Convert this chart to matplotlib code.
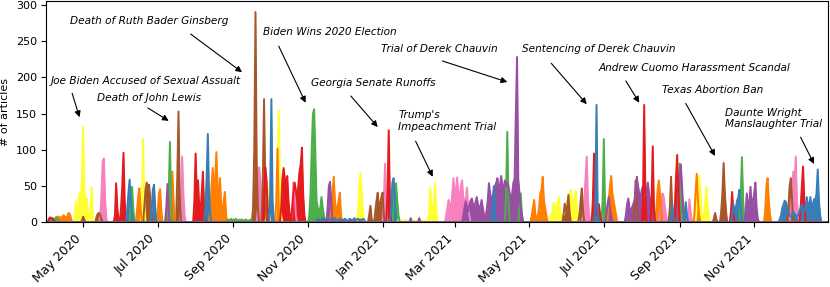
import numpy as np
import pandas as pd
import matplotlib
matplotlib.use("Agg")
import matplotlib.pyplot as plt
import matplotlib.dates as mdates

# ── daily article counts, one list of (start day, daily values) per topic colour ──
yellow = [
    ("2020-04-24", [5, 29, 15, 20, 40, 30, 60, 132, 45, 25, 33, 10, 5, 20, 49, 8]),
    ("2020-06-18", [20, 115, 30]),
    ("2020-09-28", [10, 50, 15]),
    ("2020-10-06", [20, 60, 155, 50, 10]),
    ("2020-12-12", [15, 50, 68, 40, 10]),
    ("2021-01-13", [2, 3, 2, 3, 2, 2, 3, 2, 3, 2, 2, 3, 2, 2, 3, 2, 2, 3, 2, 2, 3, 2, 2, 3]),
    ("2021-02-08", [15, 48, 20, 10, 30, 54, 15]),
    ("2021-05-17", [3, 5, 13, 8, 28, 20, 15, 25, 35, 20, 10, 8, 10, 15, 20, 30, 25,
                    40, 45, 30, 25, 35, 43, 20, 5]),
    ("2021-09-15", [20, 50, 65, 40, 15, 5, 10, 30, 49, 20, 5]),
    ("2021-12-26", [1, 1, 1, 1, 1, 1]),
]
pink = [
    ("2020-05-15", [10, 40, 85, 88, 30, 5]),
    ("2020-07-20", [15, 91, 40, 10]),
    ("2020-09-21", [20, 76, 60, 20]),
    ("2020-10-19", [15, 55, 50, 10]),
    ("2021-01-02", [30, 81, 20]),
    ("2021-02-22", [10, 20, 31, 25, 15, 40, 61, 35, 45, 62, 40, 30, 50, 58, 35, 30,
                    30, 48, 20, 10]),
    ("2021-06-14", [10, 30, 60, 91, 30, 10]),
    ("2021-08-16", [15, 30, 40, 35, 20, 10]),
    ("2021-09-08", [10, 32, 15]),
    ("2021-12-01", [20, 40, 70, 50, 91, 30, 10]),
]
brown = [
    ("2020-04-30", [3, 8, 4]),
    ("2020-05-12", [8, 12, 13, 10, 5]),
    ("2020-06-20", [20, 45, 55, 48, 52, 30, 10]),
    ("2020-07-17", [60, 153, 40]),
    ("2020-09-17", [20, 100, 290, 80, 20]),
    ("2020-09-25", [60, 170, 50]),
    ("2020-12-21", [10, 23, 5]),
    ("2020-12-26", [15, 30, 41, 20, 25, 35, 41, 10]),
    ("2021-05-29", [10, 26, 15, 20, 38, 15]),
    ("2021-06-11", [10, 30, 47, 15]),
    ("2021-07-26", [20, 58, 20]),
    ("2021-08-24", [20, 63, 15]),
    ("2021-09-29", [5, 13, 5]),
    ("2021-10-05", [15, 40, 82, 40, 15]),
    ("2021-11-29", [20, 50, 61, 30]),
]
orange = [
    ("2020-04-08", [5, 8, 7, 8, 6, 7, 8, 10, 8, 7, 8, 13, 12, 6]),
    ("2020-06-14", [15, 35, 47, 20]),
    ("2020-07-01", [15, 40, 46, 15]),
    ("2020-07-12", [40, 70, 30]),
    ("2020-08-13", [20, 50, 75, 40, 60, 97, 50, 30, 61, 20, 15, 30, 42, 10]),
    ("2020-10-06", [30, 102, 20]),
    ("2020-11-20", [20, 40, 63, 30, 15, 20, 30, 41, 10]),
    ("2021-05-03", [10, 20, 31, 10, 5, 10, 20, 40, 45, 63, 30, 20, 10]),
    ("2021-07-05", [30, 50, 64, 40, 30, 20, 10]),
    ("2021-08-13", [20, 45, 58, 40, 15]),
    ("2021-09-13", [10, 40, 67, 30, 10]),
    ("2021-11-10", [15, 50, 61, 30, 10]),
]
green = [
    ("2020-04-05", [4, 6, 5, 3, 6, 5, 4]),
    ("2020-06-09", [30, 49, 20]),
    ("2020-07-10", [40, 111, 30]),
    ("2020-08-27", [3, 4, 2, 5, 3, 4, 3, 5, 3, 2, 4, 3, 4, 2, 3, 4, 3, 2, 3, 4]),
    ("2020-11-02", [10, 40, 100, 150, 156, 90, 30, 20, 15, 20, 35, 20, 10]),
    ("2021-01-10", [20, 45, 54, 30, 10]),
    ("2021-04-12", [40, 125, 30]),
    ("2021-04-23", [20, 40, 10]),
    ("2021-06-30", [30, 115, 20]),
    ("2021-08-31", [40, 81, 30]),
    ("2021-10-21", [40, 90, 30]),
]
purple = [
    ("2020-07-08", [20, 53, 15]),
    ("2020-11-17", [20, 50, 56, 30]),
    ("2021-01-24", [6]),
    ("2021-01-31", [6]),
    ("2021-03-08", [10, 20, 29, 20, 15, 25, 30, 33, 25, 20, 28, 35, 25, 20, 22, 31,
                    20, 10, 8, 15, 30, 54, 40, 30, 35, 45, 50, 55, 61, 45, 50, 64,
                    50, 45, 58, 50, 55]),
    ("2021-04-14", [50, 40, 30, 40, 55, 60, 150, 228, 60, 40, 20, 10]),
    ("2021-07-03", [10, 25, 35, 20, 10]),
    ("2021-07-19", [10, 25, 33, 20, 15, 20, 25, 30, 40, 63, 50, 40, 30, 45, 50, 40,
                    35, 45, 55, 40, 30, 20]),
    ("2021-08-31", [30, 60, 80, 50, 20]),
    ("2021-10-25", [15, 40, 20, 25, 49, 20, 30, 40, 55, 20, 5]),
]
red = [
    ("2020-04-03", [5, 7, 6, 5, 3]),
    ("2020-05-27", [10, 54, 20]),
    ("2020-06-01", [20, 50, 96, 30, 5]),
    ("2020-07-31", [30, 95, 40, 58, 20, 15, 40, 70, 20]),
    ("2020-09-26", [30, 76, 60, 20]),
    ("2020-10-10", [20, 60, 75, 60, 55, 64, 30, 10]),
    ("2020-10-19", [20, 40, 55, 45, 30, 50, 70, 80, 103, 40, 10]),
    ("2021-01-05", [40, 127, 30]),
    ("2021-06-22", [30, 95, 25, 10, 10, 25, 10]),
    ("2021-08-02", [30, 162, 40]),
    ("2021-08-09", [30, 105, 20]),
    ("2021-08-28", [20, 60, 93, 40]),
    ("2021-10-13", [15, 42, 10]),
    ("2021-12-09", [20, 50, 77, 30]),
]
blue = [
    ("2020-06-06", [15, 40, 59, 30, 10]),
    ("2020-06-26", [15, 45, 52, 20]),
    ("2020-08-09", [20, 60, 122, 40, 10]),
    ("2020-10-01", [40, 170, 30]),
    ("2020-11-08", [3, 5, 4, 2, 4, 6, 3, 4, 5, 3, 2, 4, 5, 3, 4, 6, 3, 2, 4, 5, 3, 4,
                    3, 5, 4, 2, 3, 5, 4, 3, 4, 6, 3, 4, 5, 3, 4, 3, 5, 4]),
    ("2021-01-08", [20, 55, 61, 30]),
    ("2021-04-01", [20, 50, 15]),
    ("2021-06-24", [20, 162, 15]),
    ("2021-08-25", [10, 25, 8]),
    ("2021-09-05", [10, 28, 10]),
    ("2021-10-14", [10, 25, 15, 20, 30, 35, 45, 20]),
    ("2021-11-22", [5, 10, 20, 25, 30, 28, 20, 15, 10, 8, 10, 15, 12, 10, 8, 10, 15,
                    20, 25, 20, 15, 20, 35, 25, 20, 35, 20, 25, 32, 30, 40, 73, 30, 10]),
]

topics = [
    (yellow, "#ffff33"),
    (pink, "#f781bf"),
    (brown, "#a65628"),
    (orange, "#ff7f00"),
    (green, "#4daf4a"),
    (purple, "#984ea3"),
    (red, "#e41a1c"),
    (blue, "#377eb8"),
]

days = pd.date_range("2020-04-01", "2021-12-31", freq="D")


def to_series(clusters):
    s = pd.Series(0.0, index=days)
    for start, vals in clusters:
        idx = pd.date_range(start, periods=len(vals), freq="D")
        s.loc[idx] = np.maximum(s.loc[idx].values, vals)
    return s


fig, ax = plt.subplots(figsize=(8.3, 2.87), dpi=100)
fig.subplots_adjust(left=0.056, right=0.997, bottom=0.225, top=0.996)

for clusters, col in topics:
    s = to_series(clusters)
    ax.fill_between(s.index, 0, s.values, color=col, lw=0)
    ax.plot(s.index, s.values, color=col, lw=1.4)

# ── annotations ─────────────────────────────────────────────────────
notes = [
    ("Death of Ruth Bader Ginsberg", "2020-06-24", 277.5, "center", "2020-07-28", 259.6, "2020-09-08", 207),
    ("Joe Biden Accused of Sexual Assualt", "2020-06-21", 195, "center", "2020-04-22", 178, "2020-04-28", 145),
    ("Death of John Lewis", "2020-06-24", 171.5, "center", "2020-06-23", 157.7, "2020-07-10", 140),
    ("Biden Wins 2020 Election", "2020-11-19", 262.4, "center", "2020-10-08", 243, "2020-10-30", 165),
    ("Georgia Senate Runoffs", "2020-12-24", 192.6, "center", "2020-12-06", 174.3, "2020-12-28", 131.5),
    ("Trump's\nImpeachment Trial", "2021-01-14", 140, "left", "2021-01-28", 112, "2021-02-11", 63),
    ("Trial of Derek Chauvin", "2021-02-16", 238.6, "center", "2021-02-19", 222.5, "2021-04-13", 193.5),
    ("Sentencing of Derek Chauvin", "2021-06-27", 238.6, "center", "2021-05-19", 219.3, "2021-06-17", 163),
    ("Andrew Cuomo Harassment Scandal", "2021-09-13", 212.4, "center", "2021-07-19", 195, "2021-07-30", 165),
    ("Texas Abortion Ban", "2021-09-28", 182.5, "center", "2021-09-06", 164, "2021-09-30", 91.6),
    ("Daunte Wright\nManslaughter Trial", "2021-10-08", 143.5, "left", "2021-12-09", 117.4, "2021-12-20", 80.6),
]
for txt, tx, ty, ha, ax0, ay0, ax1, ay1 in notes:
    ax.text(pd.Timestamp(tx), ty, txt, ha=ha, va="center", style="italic",
            fontsize=7.6, multialignment="left")
    ax.annotate("", xy=(pd.Timestamp(ax1), ay1), xytext=(pd.Timestamp(ax0), ay0),
                arrowprops=dict(arrowstyle="-|>", color="black", lw=0.8,
                                mutation_scale=9, shrinkA=0, shrinkB=0))

ax.set_xlim(days[0], days[-1])
ax.set_ylim(0, 305)
ax.set_ylabel("# of articles", fontsize=8)
ax.xaxis.set_major_locator(mdates.MonthLocator(bymonth=[1, 3, 5, 7, 9, 11]))
ax.xaxis.set_major_formatter(mdates.DateFormatter("%b %Y"))
ax.tick_params(axis="y", labelsize=8)
ax.tick_params(axis="x", labelsize=9)
plt.setp(ax.get_xticklabels(), rotation=45, ha="right")

fig.savefig("out.png", dpi=100)
